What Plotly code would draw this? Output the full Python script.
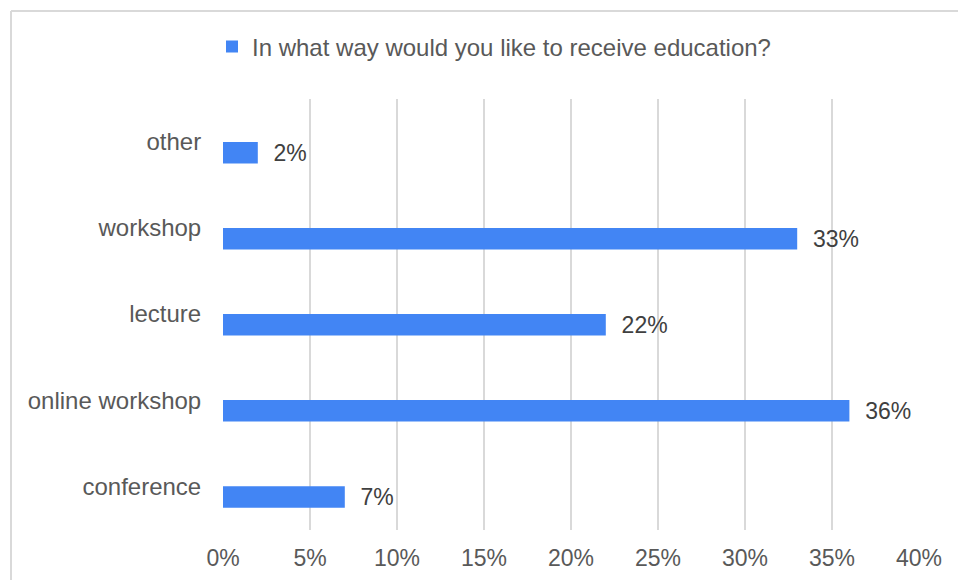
import plotly.graph_objects as go

categories = ["conference", "online workshop", "lecture", "workshop", "other"]
values = [0.07, 0.36, 0.22, 0.33, 0.02]
series_name = "In what way would you like to receive education?"
x_ticks = [0, 0.05, 0.10, 0.15, 0.20, 0.25, 0.30, 0.35, 0.40]
x_tick_labels = ["0%", "5%", "10%", "15%", "20%", "25%", "30%", "35%", "40%"]

FONT = "Liberation Sans, Arial, sans-serif"
W, H = 958, 580
L, R, T, B = 223, 39, 99, 50
pw, ph = W - L - R, H - T - B

def px_x(x):
    return (x - L) / pw

def px_y(y):
    return (H - B - y) / ph

fig = go.Figure()
fig.add_trace(go.Bar(
    y=categories,
    x=values,
    orientation="h",
    name=series_name,
    marker=dict(color="#4285F4", line=dict(width=0)),
    width=0.25,
    offset=-0.25,
    text=["\u00a0\u00a0" + f"{round(v*100)}%" for v in values],
    textposition="outside",
    constraintext="none",
    textfont=dict(family=FONT, size=23, color="#404040"),
    cliponaxis=False,
    showlegend=True,
))

fig.update_layout(
    width=W, height=H,
    margin=dict(l=L, r=R, t=T, b=B, pad=0, autoexpand=False),
    paper_bgcolor="white",
    plot_bgcolor="white",
    font=dict(family=FONT, size=23, color="#595959"),
    showlegend=True,
    legend=dict(
        orientation="h",
        x=px_x(212), xanchor="left",
        y=px_y(47), yanchor="middle",
        font=dict(family=FONT, size=24, color="#595959"),
        bgcolor="rgba(0,0,0,0)",
        itemwidth=30,
    ),
    xaxis=dict(
        automargin=False,
        range=[0, 0.40],
        tickvals=x_ticks,
        ticktext=x_tick_labels,
        showgrid=True,
        gridcolor="#d9d9d9",
        gridwidth=2,
        zeroline=False,
        showline=False,
        ticks="outside",
        ticklen=7,
        tickcolor="rgba(0,0,0,0)",
        tickfont=dict(family=FONT, size=23, color="#595959"),
    ),
    yaxis=dict(
        automargin=False,
        type="category",
        categoryorder="array",
        categoryarray=categories,
        range=[-0.51, 4.5],
        showgrid=False,
        zeroline=False,
        showline=False,
        ticks="outside",
        ticklen=16,
        tickcolor="rgba(0,0,0,0)",
        tickfont=dict(family=FONT, size=24, color="#595959"),
    ),
    shapes=[
        dict(type="line", xref="paper", yref="paper",
             x0=px_x(11), x1=px_x(970), y0=px_y(11), y1=px_y(11),
             line=dict(color="#d9d9d9", width=2)),
        dict(type="line", xref="paper", yref="paper",
             x0=px_x(11), x1=px_x(11), y0=px_y(11), y1=px_y(600),
             line=dict(color="#d9d9d9", width=2)),
    ],
)

fig.write_html("out.html", config={"displayModeBar": False},
               post_script="document.body.style.margin='0px';")
